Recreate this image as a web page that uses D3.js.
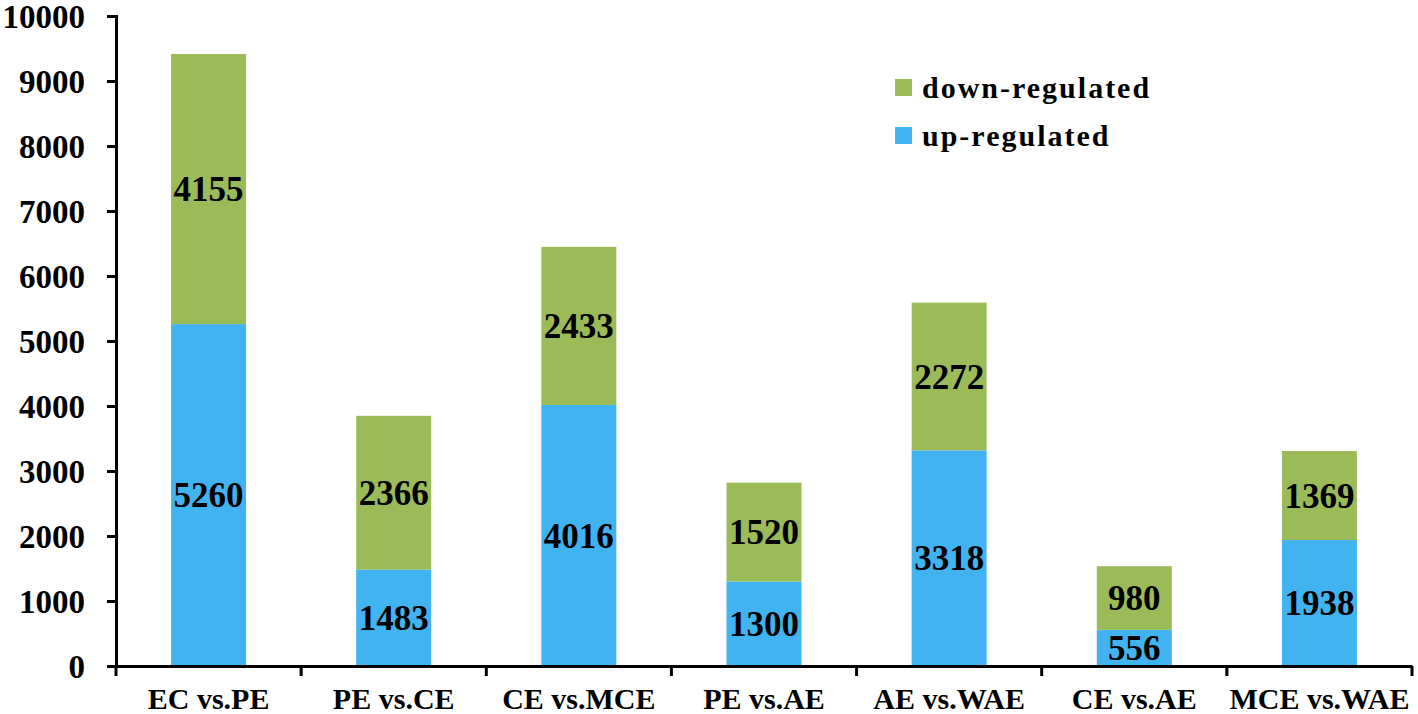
<!DOCTYPE html>
<html>
<head>
<meta charset="utf-8">
<script src="https://cdn.jsdelivr.net/npm/d3@7"></script>
<style>
  body { margin: 0; background: #fff; }
  text { font-family: "Liberation Serif", "Times New Roman", serif; font-weight: bold; fill: #000; }
</style>
</head>
<body>
<div id="chart"></div>
<script>
// data
var categories = ["EC vs.PE", "PE vs.CE", "CE vs.MCE", "PE vs.AE", "AE vs.WAE", "CE vs.AE", "MCE vs.WAE"];
var upRegulated = [5260, 1483, 4016, 1300, 3318, 556, 1938];
var downRegulated = [4155, 2366, 2433, 1520, 2272, 980, 1369];
var yTicks = [0, 1000, 2000, 3000, 4000, 5000, 6000, 7000, 8000, 9000, 10000];
var seriesNames = ["down-regulated", "up-regulated"];

var W = 1418, H = 714;
var margin = {top: 16, right: 6, bottom: 48, left: 116},
    width = W - margin.left - margin.right,
    height = H - margin.top - margin.bottom;

var colors = {"up-regulated": "#41b3f1", "down-regulated": "#9bbb59"};

var svg = d3.select("#chart").append("svg")
    .attr("width", W)
    .attr("height", H)
  .append("g")
    .attr("transform", "translate(" + margin.left + "," + margin.top + ")");

var x = d3.scaleBand().domain(categories).range([0, width]).paddingInner(0.595).paddingOuter(0.2975);
var y = d3.scaleLinear().domain([0, 10000]).range([height, 0]);

var rows = categories.map(function(c, i) {
  return {cat: c, "up-regulated": upRegulated[i], "down-regulated": downRegulated[i]};
});
var stack = d3.stack().keys(["up-regulated", "down-regulated"]);
var layers = stack(rows);

var layer = svg.selectAll("g.layer")
    .data(layers)
  .enter().append("g")
    .attr("class", "layer")
    .attr("fill", function(d) { return colors[d.key]; });

layer.selectAll("rect")
    .data(function(d) { return d; })
  .enter().append("rect")
    .attr("x", function(d) { return x(d.data.cat); })
    .attr("width", x.bandwidth())
    .attr("y", function(d) { return y(d[1]); })
    .attr("height", function(d) { return y(d[0]) - y(d[1]); });

// value labels in the middle of each segment
layers.forEach(function(l) {
  svg.selectAll(null)
      .data(l)
    .enter().append("text")
      .attr("x", function(d) { return x(d.data.cat) + x.bandwidth() / 2; })
      .attr("y", function(d) { return y((d[0] + d[1]) / 2); })
      .attr("dy", ".35em")
      .attr("text-anchor", "middle")
      .style("font-size", "35px")
      .text(function(d) { return d[1] - d[0]; });
});

// Y axis
var yAxis = svg.append("g")
    .call(d3.axisLeft(y).tickValues(yTicks).tickFormat(d3.format("d"))
      .tickSize(9).tickSizeOuter(9).tickPadding(22));
yAxis.selectAll("text").style("font-size", "33px").attr("dy", ".36em");

// X axis with ticks at band boundaries
var xAxis = svg.append("g")
    .attr("transform", "translate(0," + height + ")")
    .call(d3.axisBottom(x).tickSize(0).tickPadding(22));
xAxis.selectAll("text").style("font-size", "30px").attr("dy", ".71em");
var step = x.step();
xAxis.selectAll("line.sep")
    .data(d3.range(categories.length + 1))
  .enter().append("line")
    .attr("class", "sep")
    .attr("x1", function(i) { return i * step; })
    .attr("x2", function(i) { return i * step; })
    .attr("y1", 0)
    .attr("y2", 10)
    .attr("stroke", "#000")
    .attr("stroke-width", 3);

svg.selectAll(".domain").attr("stroke-width", 3);
svg.selectAll(".tick line").attr("stroke-width", 3);

// legend
var legend = svg.append("g")
    .attr("transform", "translate(" + (895 - margin.left) + "," + (79 - margin.top) + ")");
seriesNames.forEach(function(name, i) {
  var g = legend.append("g").attr("transform", "translate(0," + (i * 48) + ")");
  g.append("rect").attr("width", 17).attr("height", 17).attr("fill", colors[name]);
  g.append("text")
      .attr("x", 27)
      .attr("y", 8)
      .attr("dy", ".35em")
      .style("font-size", "30px")
      .style("letter-spacing", "2px")
      .text(name);
});
</script>
</body>
</html>
